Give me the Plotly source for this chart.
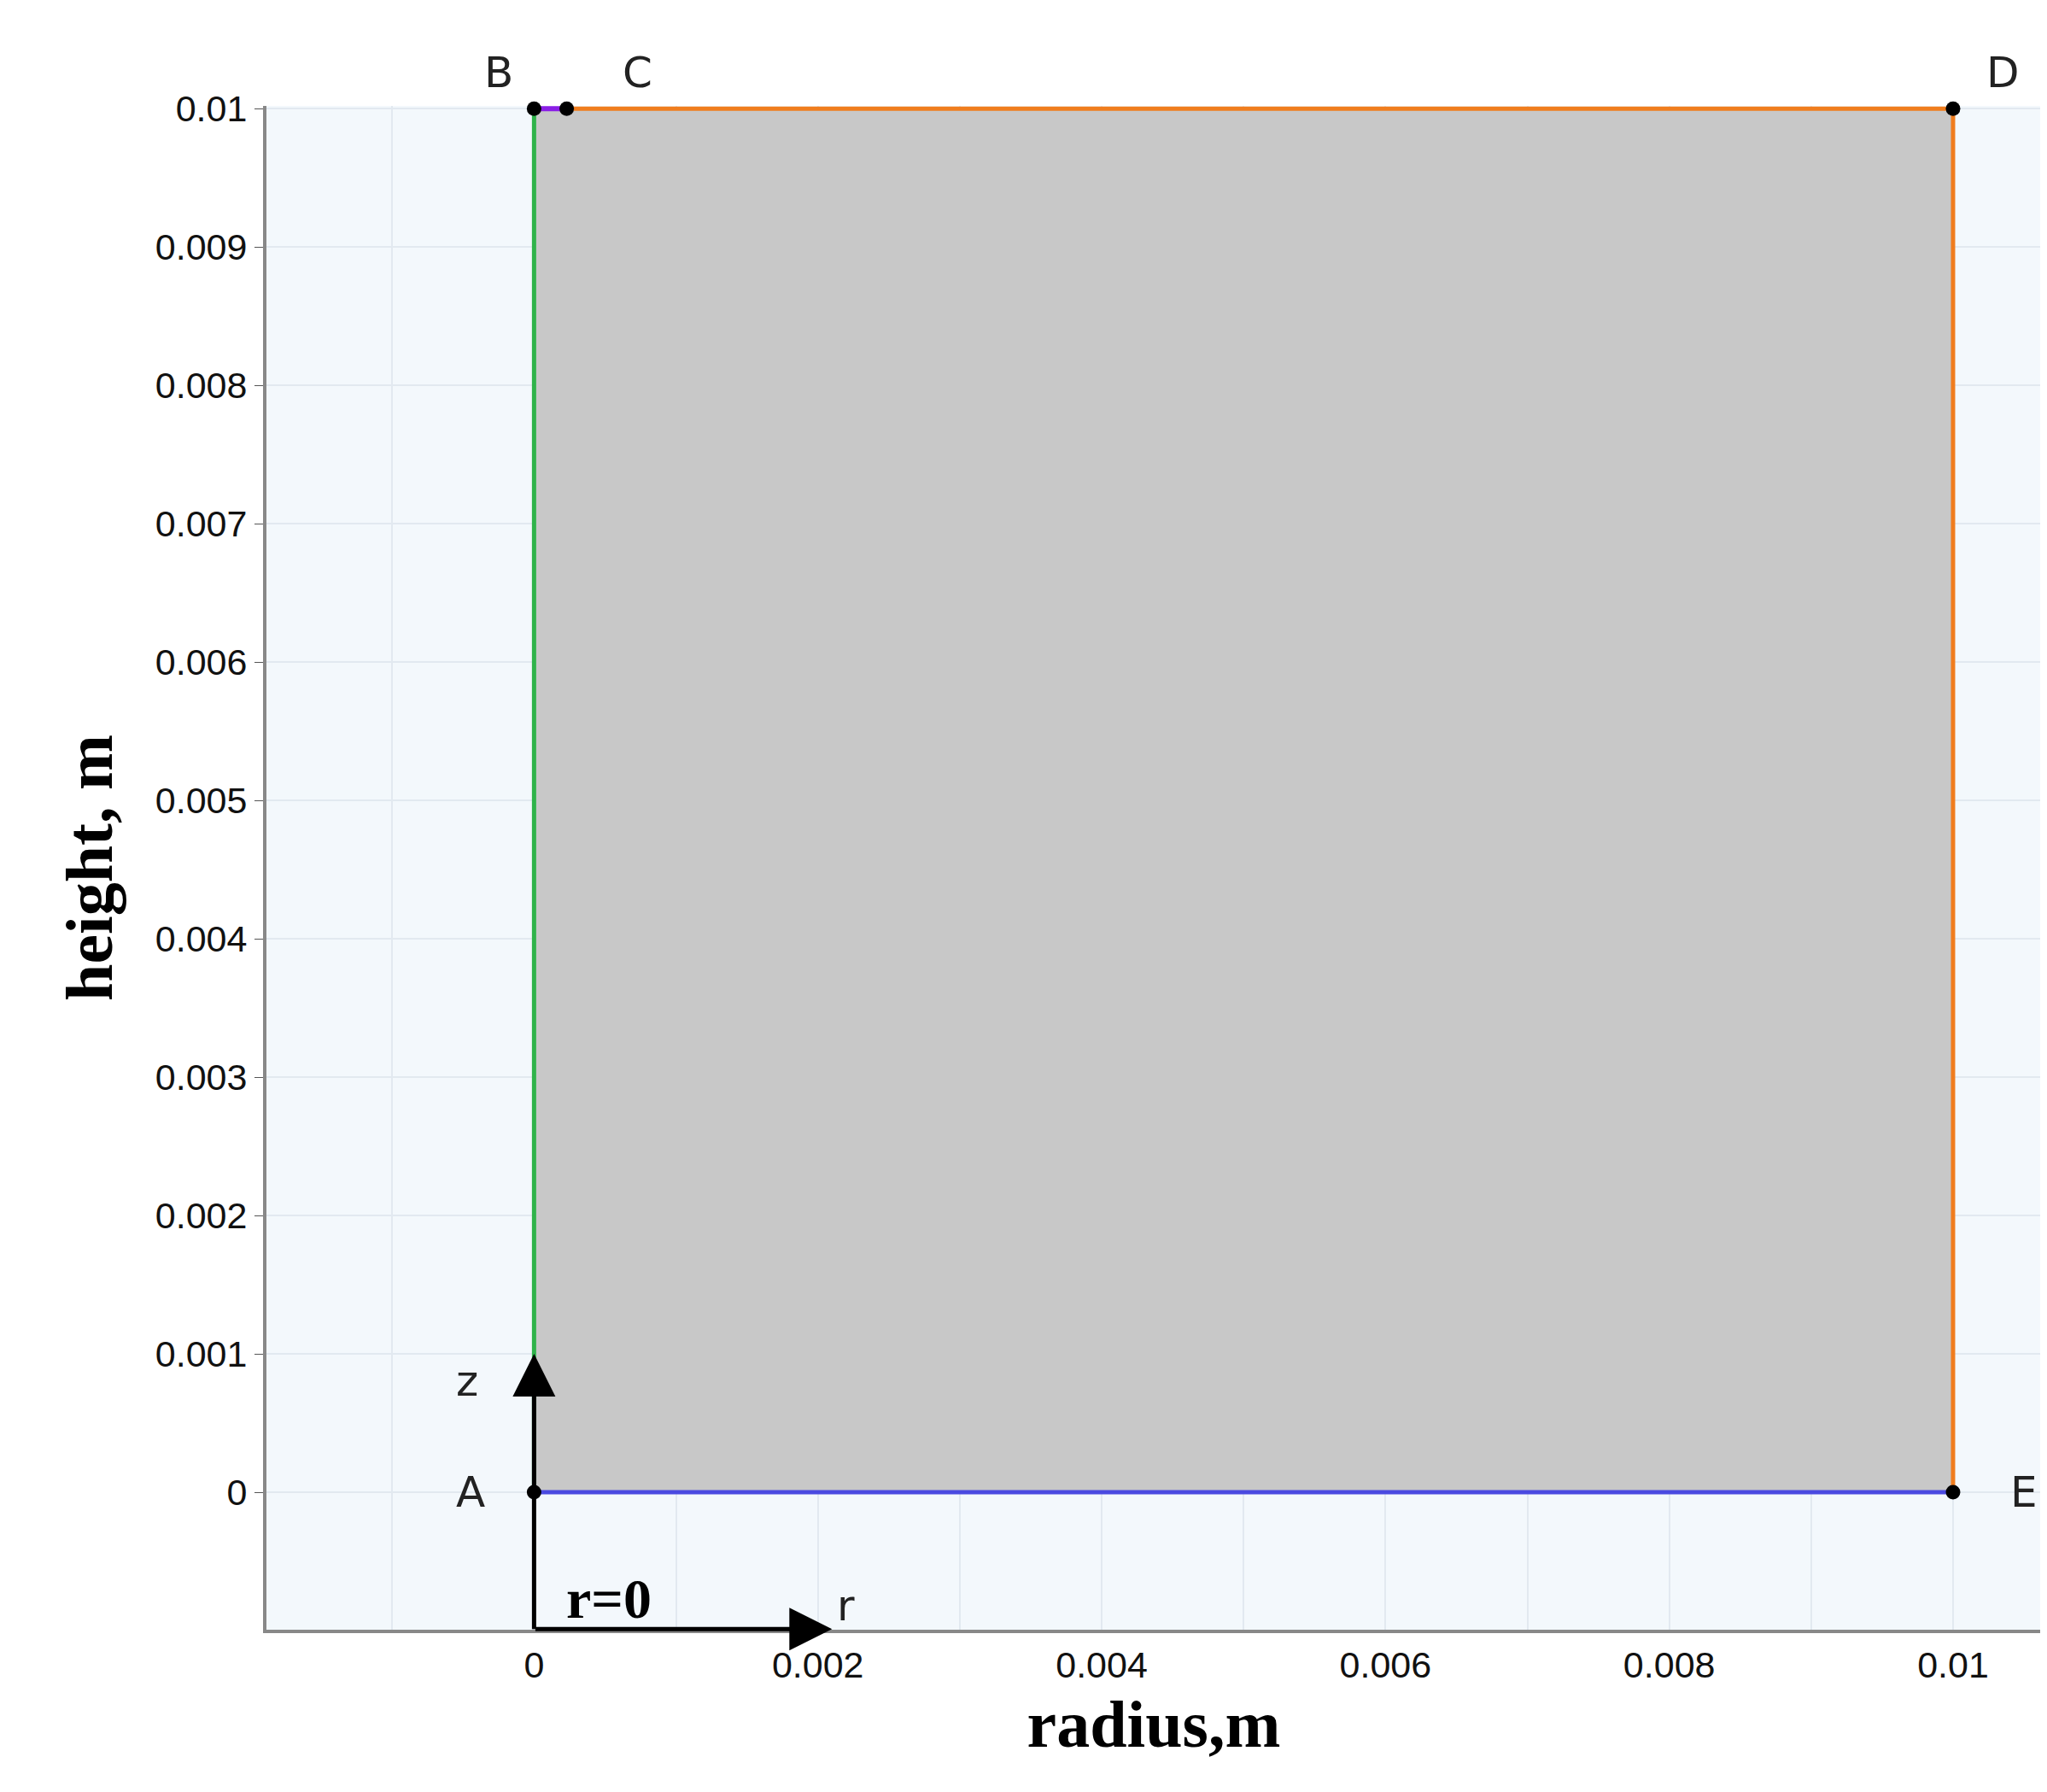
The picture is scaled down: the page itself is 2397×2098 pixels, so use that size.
import plotly.graph_objects as go

# geometry of the domain (m)
r_in = 0.0
r_c = 0.00023
r_out = 0.01
h_bot = 0.0
h_top = 0.01

point_names = ["A", "B", "C", "D", "E"]
point_r = [r_in, r_in, r_c, r_out, r_out]
point_z = [h_bot, h_top, h_top, h_top, h_bot]

x_ticks = [0, 0.002, 0.004, 0.006, 0.008, 0.01]
x_labels = ["0", "0.002", "0.004", "0.006", "0.008", "0.01"]
y_ticks = [0, 0.001, 0.002, 0.003, 0.004, 0.005, 0.006, 0.007, 0.008, 0.009, 0.01]
y_labels = ["0", "0.001", "0.002", "0.003", "0.004", "0.005", "0.006", "0.007", "0.008", "0.009", "0.01"]

fig = go.Figure()

# grey domain
fig.add_trace(go.Scatter(x=[r_in, r_out, r_out, r_in, r_in], y=[h_bot, h_bot, h_top, h_top, h_bot],
                         fill="toself", fillcolor="#c8c8c8", line=dict(width=0), mode="lines",
                         hoverinfo="skip"))
# boundaries
fig.add_trace(go.Scatter(x=[r_in, r_in], y=[h_bot, h_top], mode="lines", line=dict(color="#2fb34a", width=5)))
fig.add_trace(go.Scatter(x=[r_in, r_c], y=[h_top, h_top], mode="lines", line=dict(color="#8a1ee6", width=6)))
fig.add_trace(go.Scatter(x=[r_c, r_out, r_out], y=[h_top, h_top, h_bot], mode="lines",
                         line=dict(color="#f07d1e", width=5)))
fig.add_trace(go.Scatter(x=[r_in, r_out], y=[h_bot, h_bot], mode="lines", line=dict(color="#4a4ae0", width=5)))
# axis of symmetry stub
fig.add_trace(go.Scatter(x=[0, 0], y=[0, -0.00099], mode="lines", line=dict(color="black", width=5)))
fig.add_trace(go.Scatter(x=point_r, y=point_z, mode="markers", marker=dict(color="black", size=17),
                         cliponaxis=False))

label_font = dict(family="DejaVu Sans", size=50, color="#222222")
for n, r, z in zip(point_names, point_r, point_z):
    if z == h_top:
        dx = {"B": -0.00025, "C": 0.0005, "D": 0.00035}[n]
        fig.add_annotation(x=r + dx, y=1.0, xref="x", yref="y domain", yanchor="bottom", yshift=8,
                           text=n, showarrow=False, font=label_font)
    else:
        dx = {"A": -0.00045, "E": 0.0005}[n]
        fig.add_annotation(x=r + dx, y=z, text=n, showarrow=False, font=label_font)

# coordinate arrows
fig.add_annotation(x=0, y=0.001, ax=0, ay=0, axref="x", ayref="y", xref="x", yref="y",
                   showarrow=True, arrowhead=2, arrowsize=2, arrowwidth=5, arrowcolor="black", text="")
fig.add_annotation(x=0.0021, y=-0.00099, ax=0, ay=-0.00099, axref="x", ayref="y", xref="x", yref="y",
                   showarrow=True, arrowhead=2, arrowsize=2, arrowwidth=5, arrowcolor="black", text="")
fig.add_annotation(x=-0.00047, y=0.0008, text="z", showarrow=False, font=label_font)
fig.add_annotation(x=0.0022, y=-0.00082, text="r", showarrow=False, font=label_font)
fig.add_annotation(x=0.00053, y=-0.00077, text="<b>r=0</b>", showarrow=False,
                   font=dict(family="Liberation Serif", size=66, color="black"))

tick_font = dict(family="Liberation Sans", size=43, color="#111111")
fig.update_xaxes(range=[-0.001886, 0.01062], tickvals=x_ticks, ticktext=x_labels, tickfont=tick_font,
                 showgrid=True, gridcolor="#e2e9f0", gridwidth=2, minor=dict(dtick=0.001, showgrid=True,
                 gridcolor="#e2e9f0", gridwidth=2),
                 showline=True, linecolor="#888888", linewidth=4, mirror=False, zeroline=False,
                 ticks="", title=dict(text="<b>radius,m</b>",
                 font=dict(family="Liberation Serif", size=78, color="black"), standoff=20))
fig.update_yaxes(range=[-0.000994, 0.01002], tickvals=y_ticks, ticktext=y_labels, tickfont=tick_font,
                 showgrid=True, gridcolor="#e2e9f0", gridwidth=2,
                 showline=True, linecolor="#888888", linewidth=4, mirror=True, zeroline=False,
                 ticks="outside", ticklen=10, tickcolor="#555555", title=dict(text="<b>height, m</b>",
                 font=dict(family="Liberation Serif", size=78, color="black"), standoff=25))

fig.update_layout(width=2397, height=2098, showlegend=False, plot_bgcolor="#f3f8fc",
                  paper_bgcolor="white", margin=dict(l=304, r=11, t=116, b=198))
fig.write_html("out.html")
